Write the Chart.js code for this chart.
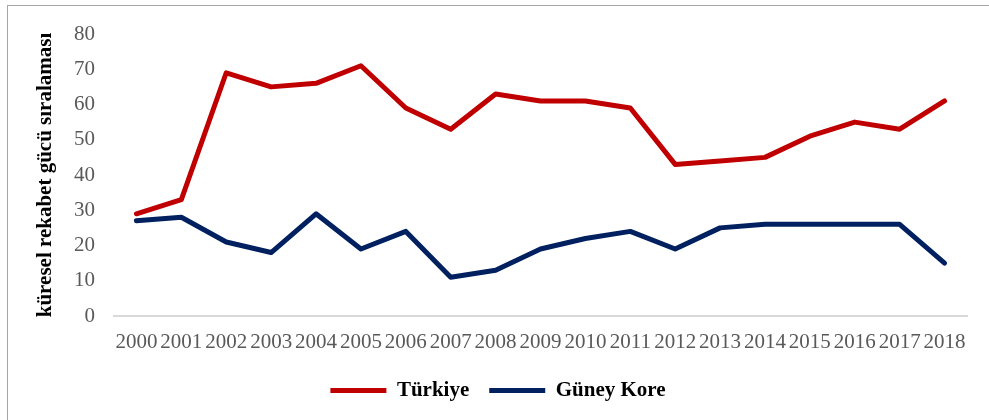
<!DOCTYPE html>
<html>
<head>
<meta charset="utf-8">
<script src="https://cdn.jsdelivr.net/npm/chart.js@4"></script>
<style>
  html, body { margin: 0; padding: 0; background: #fff; }
  #wrap { width: 989px; height: 420px; position: relative; }
</style>
</head>
<body>
<div id="wrap"><canvas id="chart" width="989" height="420"></canvas></div>
<script>
const years = ['2000','2001','2002','2003','2004','2005','2006','2007','2008','2009',
               '2010','2011','2012','2013','2014','2015','2016','2017','2018'];
const turkiye = [29, 33, 69, 65, 66, 71, 59, 53, 63, 61, 61, 59, 43, 44, 45, 51, 55, 53, 61];
const guneyKore = [27, 28, 21, 18, 29, 19, 24, 11, 13, 19, 22, 24, 19, 25, 26, 26, 26, 26, 15];

const serif = '"Liberation Serif", "Times New Roman", serif';

// thin grey frame like the exported office chart
const framePlugin = {
  id: 'frame',
  beforeDraw(chart) {
    const ctx = chart.ctx;
    ctx.save();
    ctx.strokeStyle = '#a6a6a6';
    ctx.lineWidth = 1;
    ctx.strokeRect(7.5, 5.5, chart.width + 10, chart.height + 10);
    ctx.restore();
  }
};

const ctx = document.getElementById('chart').getContext('2d');
new Chart(ctx, {
  type: 'line',
  data: {
    labels: years,
    datasets: [
      {
        label: 'Türkiye',
        data: turkiye,
        borderColor: '#C00000',
        backgroundColor: '#C00000',
        borderWidth: 5,
        borderCapStyle: 'round',
        borderJoinStyle: 'round',
        pointRadius: 0,
        tension: 0
      },
      {
        label: 'Güney Kore',
        data: guneyKore,
        borderColor: '#002060',
        backgroundColor: '#002060',
        borderWidth: 5,
        borderCapStyle: 'round',
        borderJoinStyle: 'round',
        pointRadius: 0,
        tension: 0
      }
    ]
  },
  options: {
    responsive: false,
    animation: false,
    maintainAspectRatio: false,
    layout: { padding: { left: 29, right: 22, top: 34, bottom: 9 } },
    plugins: {
      tooltip: { enabled: false },
      legend: {
        position: 'bottom',
        labels: {
          usePointStyle: true,
          pointStyle: 'line',
          pointStyleWidth: 56,
          padding: 20,
          color: '#000',
          font: { family: serif, size: 21, weight: 'bold' }
        }
      }
    },
    scales: {
      x: {
        offset: true,
        grid: { display: false, drawTicks: false },
        border: { display: true, color: '#d9d9d9', width: 2 },
        ticks: {
          color: '#595959',
          autoSkip: false,
          maxRotation: 0,
          minRotation: 0,
          padding: 14,
          font: { family: serif, size: 21 }
        },
        afterFit(scale) { scale.height = 44; }
      },
      y: {
        min: 0,
        max: 80,
        grid: { display: false, drawTicks: false },
        border: { display: false },
        ticks: {
          stepSize: 10,
          color: '#595959',
          padding: 19,
          font: { family: serif, size: 21 }
        },
        title: {
          display: true,
          text: 'küresel rekabet gücü sıralaması',
          color: '#000',
          padding: { top: 4, bottom: 0 },
          font: { family: serif, size: 21, weight: 'bold' }
        },
        afterFit(scale) { scale.width = 85; }
      }
    }
  },
  plugins: [framePlugin]
});
</script>
</body>
</html>
